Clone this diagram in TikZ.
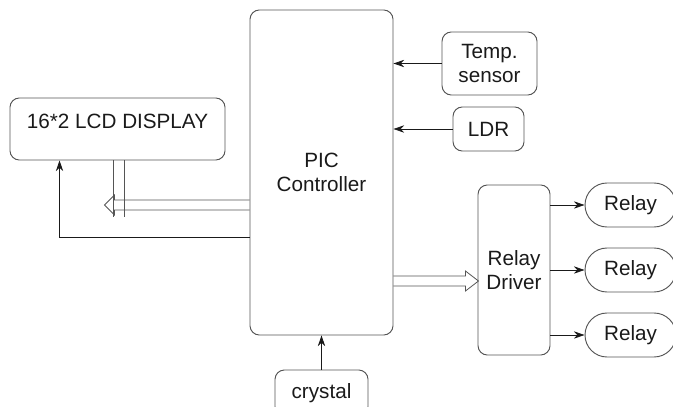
\documentclass[tikz,border=0pt]{standalone}
\usepackage{fontspec}
\setmainfont{Liberation Sans}
\usetikzlibrary{positioning,arrows.meta,shapes.misc,calc}
\definecolor{edge}{HTML}{555555}
\definecolor{ink}{HTML}{1A1A1A}
\newcommand{\blkfont}{\fontsize{15.5}{17.5}\selectfont}
\tikzset{
  blk/.style={rectangle,rounded corners=7pt,draw=edge,fill=white,line width=0.7pt,
    align=center,inner sep=0pt,font=\blkfont,text=ink},
  relay/.style={rounded rectangle,draw=edge,fill=white,line width=0.7pt,
    minimum width=68.25pt,minimum height=33pt,inner sep=0pt,font=\blkfont,text=ink},
  ar/.style={-{Stealth[length=8pt,width=5.5pt]},draw=ink,line width=0.6pt},
  bus/.style={draw=edge,line width=0.6pt},
}

\begin{document}
\begin{tikzpicture}[x=0.75pt,y=-0.75pt]
  \useasboundingbox (0,0) rectangle (673,406);
  \node[blk,minimum width=107.25pt,minimum height=243.75pt] (pic) at (321.5,172.5) {PIC\\Controller};
  \node[blk,minimum width=71.25pt,minimum height=47.25pt] (temp) at (489.5,63.5) {Temp.\\sensor};
  \node[blk,minimum width=53.25pt,minimum height=33pt] (ldr) at (488.5,129) {LDR};
  \node[blk,minimum width=161.25pt,text height=22.5pt,text depth=24pt] (lcd) at (117.5,129) {16*2 LCD DISPLAY};
  \node[blk,minimum width=54pt,minimum height=127.5pt] (drv) at (514,270) {Relay\\Driver};
  \foreach \y/\n in {205/1,270/2,335/3}
    \node[relay] (relay\n) at (630.5,\y) {Relay};
  \node[blk,minimum width=69.75pt,minimum height=34.5pt] (xtal) at (321.5,393) {crystal};
  % inputs
  \draw[ar] (temp.west) -- (temp.west -| pic.east);
  \draw[ar] (ldr.west) -- (ldr.west -| pic.east);
  \draw[ar] (xtal.north) -- (pic.south);
  % lcd lines
  \draw[ar] ($(pic.west)+(0,64.5)$) -| ($(lcd.south west)+(50,0)$);
  \draw[bus] ($(lcd.south)+(-4.5,0)$) -- ++(0,57);
  \draw[bus] ($(lcd.south)+(6.5,0)$) -- ++(0,57);
  \draw[bus] ($(pic.west)+(0,27.5)$) -- ++(-135,0) -- ++(0,-5) -- ++(-10,10) -- ++(10,10) -- ++(0,-5) -- ($(pic.west)+(0,37.5)$);
  % relay side
  \draw[bus] ($(pic.east)+(0,103.5)$) -- ++(72,0) -- ++(0,-5) -- ++(13,10) -- ++(-13,10) -- ++(0,-5) -- ($(pic.east)+(0,113.5)$);
  \foreach \n in {1,2,3}
    \draw[ar] (relay\n.west -| drv.east) -- (relay\n.west);
\end{tikzpicture}
\end{document}
